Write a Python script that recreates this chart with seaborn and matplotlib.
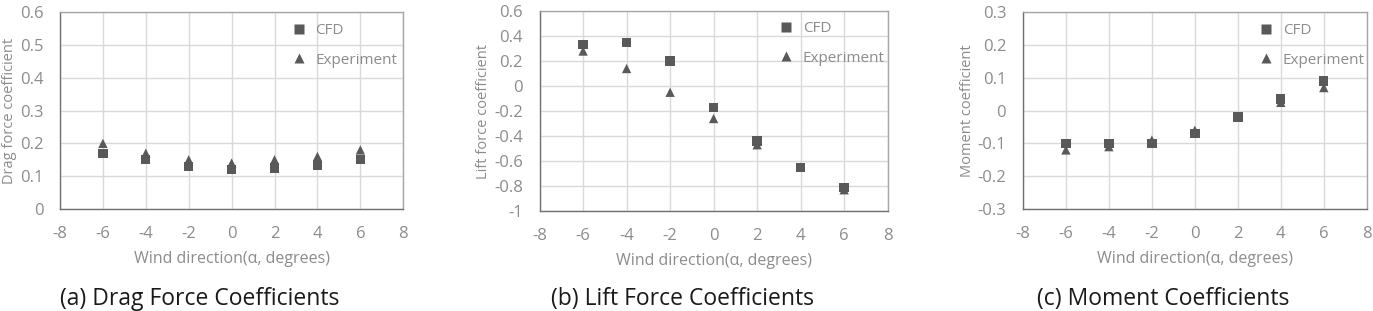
import numpy as np
import pandas as pd
import matplotlib
matplotlib.use("Agg")
import matplotlib.pyplot as plt
from matplotlib.ticker import MultipleLocator
import seaborn as sns

# ---- data ----
wind_dir = [-6, -4, -2, 0, 2, 4, 6]

drag_cfd = [0.17, 0.15, 0.13, 0.12, 0.125, 0.133, 0.15]
drag_exp = [0.20, 0.17, 0.15, 0.14, 0.15, 0.16, 0.18]

lift_cfd = [0.33, 0.35, 0.20, -0.17, -0.44, -0.65, -0.81]
lift_exp = [0.28, 0.14, -0.05, -0.26, -0.47, -0.65, -0.83]

moment_cfd = [-0.10, -0.10, -0.10, -0.07, -0.02, 0.035, 0.09]
moment_exp = [-0.12, -0.11, -0.09, -0.06, -0.02, 0.025, 0.07]

ylabels = ["Drag force coefficient", "Lift force coefficient", "Moment coefficient"]
captions = ["(a) Drag Force Coefficients", "(b) Lift Force Coefficients", "(c) Moment Coefficients"]

sns.set_style("white")
plt.rcParams['font.family'] = ['Open Sans', 'DejaVu Sans']
plt.rcParams['axes.unicode_minus'] = False

GRAY_TXT = '#8c8c8c'
MARK = '#595959'

fig = plt.figure(figsize=(13.73, 3.11), dpi=100)
positions = [
    [0.0437, 0.328, 0.250, 0.633],
    [0.393, 0.3215, 0.2535, 0.643],
    [0.745, 0.328, 0.2505, 0.633],
]
ylims = [(0, 0.6), (-1, 0.6), (-0.3, 0.3)]
ymajor = [0.1, 0.2, 0.1]
yminor = [0.02, 0.1, 0.05]
legend_anchor = [(0.633, 0.975), (0.646, 0.98), (0.645, 0.975)]

series = [(drag_cfd, drag_exp), (lift_cfd, lift_exp), (moment_cfd, moment_exp)]

for i, (cfd, exp) in enumerate(series):
    ax = fig.add_axes(positions[i])
    df = pd.DataFrame({
        'alpha': wind_dir * 2,
        'coef': cfd + exp,
        'source': ['CFD'] * len(cfd) + ['Experiment'] * len(exp),
    })
    sns.scatterplot(data=df, x='alpha', y='coef', style='source',
                    markers={'CFD': 's', 'Experiment': '^'},
                    color=MARK, s=45, edgecolor='none', ax=ax, zorder=3)

    ax.set_xlim(-8, 8)
    ax.set_ylim(*ylims[i])
    ax.xaxis.set_major_locator(MultipleLocator(2))
    ax.xaxis.set_minor_locator(MultipleLocator(1))
    ax.yaxis.set_major_locator(MultipleLocator(ymajor[i]))
    ax.yaxis.set_minor_locator(MultipleLocator(yminor[i]))
    ax.yaxis.set_major_formatter(lambda v, p: f"{v:g}" if abs(v) > 1e-9 else "0")

    ax.grid(True, which='major', color='#d9d9d9', linewidth=1.0, zorder=0)
    ax.set_axisbelow(True)
    for sp in ax.spines.values():
        sp.set_color('#a6a6a6')
        sp.set_linewidth(1.0)
    ax.spines['bottom'].set_color('#707070')
    ax.spines['left'].set_color('#707070')
    ax.tick_params(which='both', direction='in', top=False, right=False,
                   colors='#707070', labelcolor=GRAY_TXT, labelsize=12)
    ax.tick_params(which='major', length=4)
    ax.tick_params(axis='x', which='major', pad=12)
    ax.tick_params(axis='y', which='major', pad=12)
    ax.tick_params(which='minor', length=3)

    ax.set_xlabel("Wind direction(\u03b1, degrees)", fontsize=11.5, color=GRAY_TXT, labelpad=7)
    ax.set_ylabel(ylabels[i], fontsize=10.5, color=GRAY_TXT, labelpad=2)

    leg = ax.legend(loc='upper left', bbox_to_anchor=legend_anchor[i], frameon=False,
                    fontsize=11, handletextpad=0.1, labelspacing=0.95,
                    markerscale=1.0, borderaxespad=0)
    for t in leg.get_texts():
        t.set_color(GRAY_TXT)

    pos = positions[i]
    fig.text(pos[0] + pos[2] / 2 - 0.023, 0.04, captions[i], ha='center', va='center',
             fontsize=16.5, color='#1a1a1a')

fig.savefig("out.png", dpi=100)
